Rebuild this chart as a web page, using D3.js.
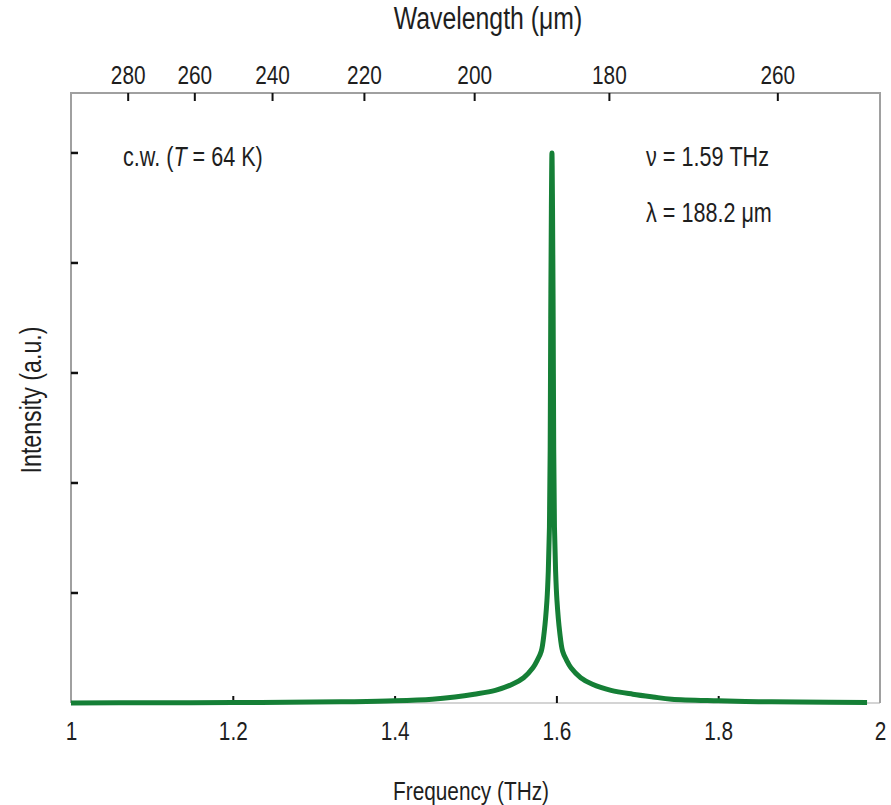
<!DOCTYPE html>
<html>
<head>
<meta charset="utf-8">
<script src="https://cdn.jsdelivr.net/npm/d3@7"></script>
<style>
  body { margin: 0; background: #fff; }
  svg text { font-family: "Liberation Sans", Arial, sans-serif; fill: #1e1e1e; }
</style>
</head>
<body>
<svg id="chart" width="891" height="805"></svg>
<script>
// emission spectrum (frequency in THz, intensity a.u.)
var freq = [1.0, 1.1, 1.2, 1.3, 1.35, 1.4, 1.4465, 1.4745, 1.4985, 1.5245, 1.5455, 1.5595, 1.571, 1.5765,
            1.5813, 1.585, 1.5883, 1.59, 1.5914, 1.5923, 1.593, 1.5938, 1.5945,
            1.5952, 1.596, 1.5967, 1.5976, 1.599, 1.6007, 1.604, 1.6077, 1.6125, 1.618, 1.63, 1.6445,
            1.6675, 1.6945, 1.7195, 1.7425, 1.8, 1.85, 1.9, 1.984];
var intensity = [0.0, 0.002, 0.004, 0.008, 0.012, 0.02, 0.035, 0.055, 0.08, 0.115, 0.17, 0.23, 0.32, 0.39,
                 0.47, 0.65, 0.93, 1.2, 1.6, 2.3, 3.5, 4.5, 5.0,
                 4.5, 3.5, 2.3, 1.6, 1.2, 0.93, 0.65, 0.47, 0.39, 0.32, 0.23, 0.17,
                 0.115, 0.08, 0.055, 0.035, 0.02, 0.012, 0.008, 0.004];

var freqTicks = [1, 1.2, 1.4, 1.6, 1.8, 2];
var freqTickLabels = ["1", "1.2", "1.4", "1.6", "1.8", "2"];
var waveTicks = [280, 260, 240, 220, 200, 180, 160];        // micrometres
var waveTickLabels = ["280", "260", "240", "220", "200", "180", "260"]; // as printed
var intensityTicks = [1, 2, 3, 4, 5];

var C_UM_THZ = 299.792458; // c in um*THz
var NARROW = 0.8;           // the original uses a condensed face

var margin = {left: 71, right: 11, top: 93, bottom: 102};
var W = 891, H = 805;

var svg = d3.select("#chart");
var x = d3.scaleLinear().domain([1, 2]).range([margin.left, W - margin.right]);
var y = d3.scaleLinear().domain([0, 5.545]).range([H - margin.bottom, margin.top]);

// narrow text placed at (px,py)
function label(px, py, size, rot) {
  return svg.append("text")
    .attr("transform", "translate(" + px + "," + py + ")" + (rot ? " rotate(" + rot + ")" : "") + " scale(" + NARROW + ",1)")
    .style("font-size", size + "px");
}

// frame
svg.append("line").attr("x1", x(1)).attr("x2", x(2)).attr("y1", y(0)).attr("y2", y(0))
  .attr("stroke", "#d4d4d4").attr("stroke-width", 2);
svg.append("path")
  .attr("d", "M" + x(1) + "," + y(0) + "V" + margin.top + "H" + x(2) + "V" + y(0))
  .attr("fill", "none").attr("stroke", "#a0a0a0").attr("stroke-width", 2);

// bottom axis
var bottomAxis = svg.append("g").attr("transform", "translate(0," + y(0) + ")")
  .call(d3.axisBottom(x).tickValues(freqTicks).tickSize(0).tickPadding(19)
    .tickFormat(function(d, i) { return freqTickLabels[i]; }));
bottomAxis.select(".domain").remove();
bottomAxis.selectAll("text").style("font-size", "26px").attr("fill", "#1e1e1e")
  .attr("transform", "scale(" + NARROW + ",1)");
bottomAxis.selectAll(".tick").filter(function(d) { return d > 1 && d < 2; })
  .append("line").attr("y1", 0).attr("y2", -7).attr("stroke", "#111").attr("stroke-width", 2);

// top axis: wavelength, placed at c/lambda on the frequency scale
var topAxis = svg.append("g").attr("transform", "translate(0," + margin.top + ")");
topAxis.selectAll("g.wt").data(waveTicks).enter().append("g").attr("class", "wt")
  .attr("transform", function(d) { return "translate(" + x(C_UM_THZ / d) + ",0)"; })
  .each(function(d, i) {
    var g = d3.select(this);
    g.append("line").attr("y1", 0).attr("y2", 8).attr("stroke", "#111").attr("stroke-width", 2);
    g.append("text").attr("transform", "translate(0,-9) scale(" + NARROW + ",1)")
      .attr("text-anchor", "middle").style("font-size", "26px")
      .text(waveTickLabels[i]);
  });

// left axis ticks, no labels
svg.selectAll("line.yt").data(intensityTicks).enter().append("line").attr("class", "yt")
  .attr("x1", x(1)).attr("x2", x(1) + 7)
  .attr("y1", function(d) { return y(d); }).attr("y2", function(d) { return y(d); })
  .attr("stroke", "#111").attr("stroke-width", 2.5);

// axis titles
label(488, 29, 31).attr("text-anchor", "middle").text("Wavelength (\u03bcm)");
label(471, 800, 26).attr("text-anchor", "middle").text("Frequency (THz)");
label(41, 400, 29, -90).attr("text-anchor", "middle").text("Intensity (a.u.)");

// annotations
var cw = label(123, 166, 27);
cw.append("tspan").text("c.w. (");
cw.append("tspan").style("font-style", "italic").text("T");
cw.append("tspan").text(" = 64 K)");
label(646, 166, 27).text("\u03bd = 1.59 THz");
label(646, 222, 27).text("\u03bb = 188.2 \u03bcm");

// spectrum
var pts = freq.map(function(f, i) { return [f, intensity[i]]; });
svg.append("path").datum(pts)
  .attr("fill", "none").attr("stroke", "#157f36").attr("stroke-width", 5)
  .attr("stroke-linejoin", "round")
  .attr("d", d3.line().x(function(d) { return x(d[0]); }).y(function(d) { return y(d[1]); })
    .curve(d3.curveCatmullRom.alpha(0.5)));
</script>
</body>
</html>
